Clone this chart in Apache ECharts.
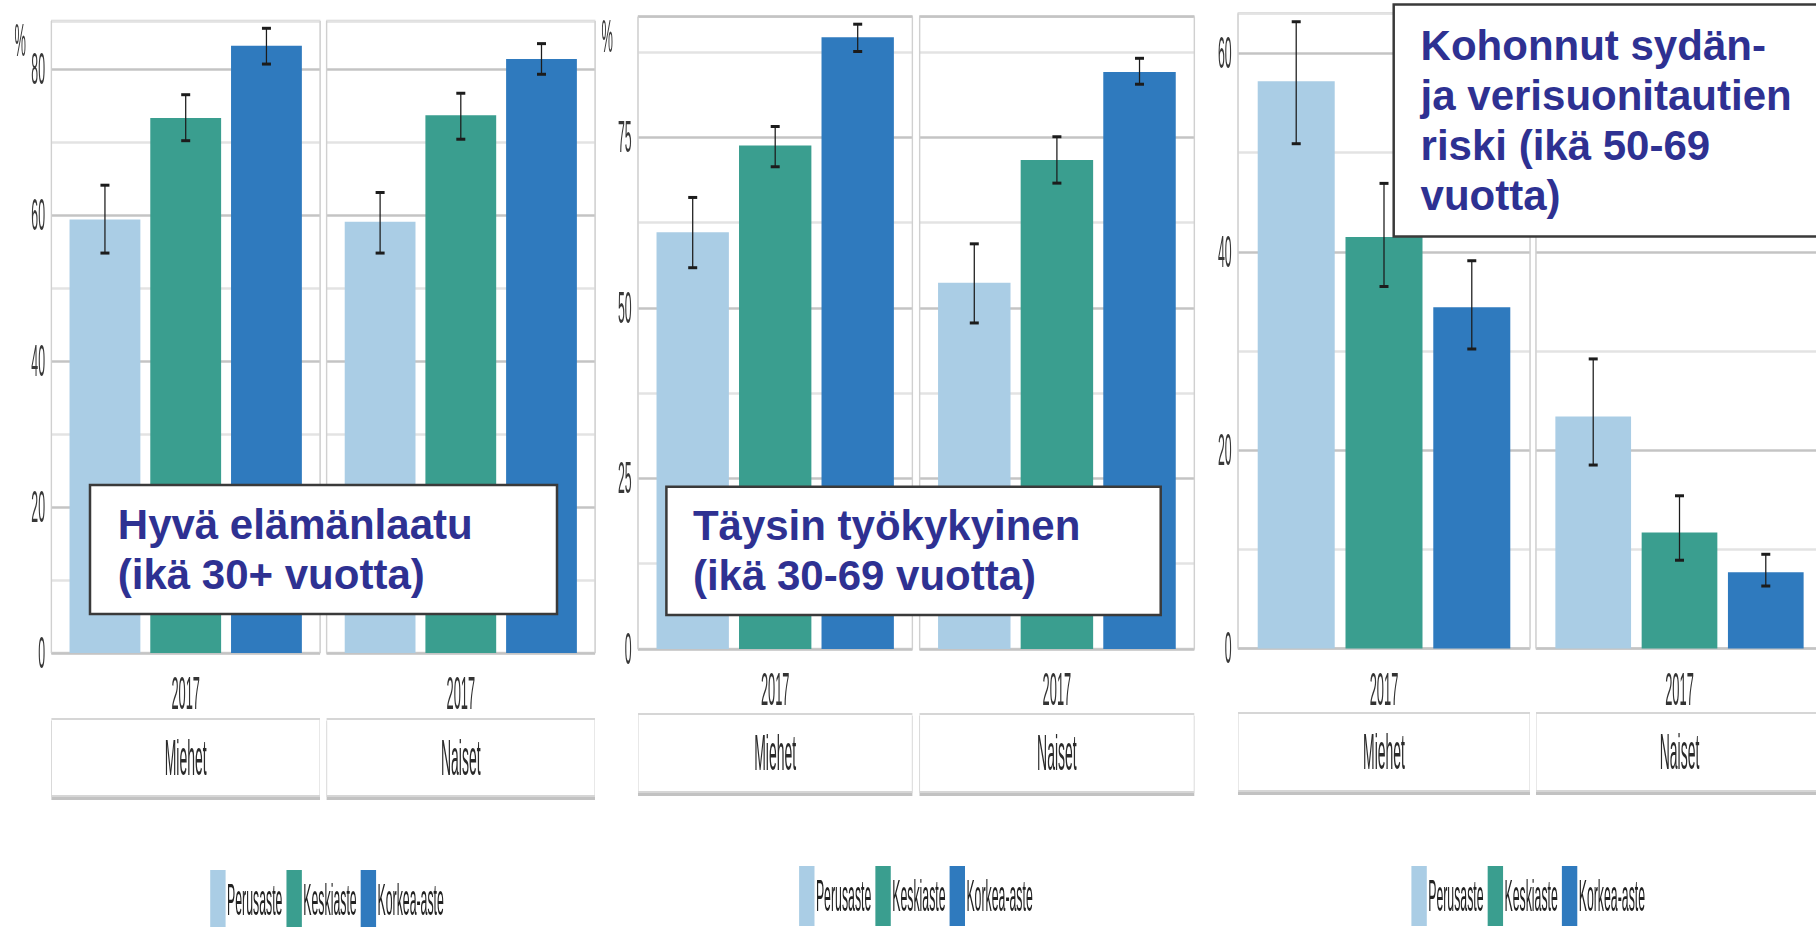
<!DOCTYPE html>
<html>
<head>
<meta charset="utf-8">
<script src="https://cdn.jsdelivr.net/npm/echarts@6/dist/echarts.min.js"></script>
<style>
html,body{margin:0;padding:0;overflow:hidden;background:#fff;width:1816px;height:927px}
#wrap{position:relative;width:1816px;height:927px;overflow:hidden;background:#fff}
#main{position:absolute;left:0;top:0;height:927px;transform-origin:0 0}
#overlay{position:absolute;left:0;top:0;width:1816px;height:927px}
</style>
</head>
<body>
<div id="wrap"><div id="main"></div><div id="overlay"></div></div>
<script>
// ---------------- data ----------------
const years = ['2017'];
const genders = ['Miehet', 'Naiset'];
const levels = ['Perusaste', 'Keskiaste', 'Korkea-aste'];
const levelColors = ['#aacde5', '#3a9e8f', '#2f7abe'];

const titles = [
  'Hyvä elämänlaatu\n(ikä 30+ vuotta)',
  'Täysin työkykyinen\n(ikä 30-69 vuotta)',
  'Kohonnut sydän-\nja verisuonitautien\nriski (ikä 50-69\nvuotta)'
];

// Panel 1: Hyvä elämänlaatu
const laatuMiehet     = [59.4, 73.3, 83.2];
const laatuMiehetLow  = [54.8, 70.2, 80.7];
const laatuMiehetHigh = [64.1, 76.5, 85.6];
const laatuNaiset     = [59.1, 73.7, 81.4];
const laatuNaisetLow  = [54.8, 70.4, 79.3];
const laatuNaisetHigh = [63.1, 76.7, 83.5];
const laatuTicks = [0, 20, 40, 60, 80];

// Panel 2: Täysin työkykyinen
const tyoMiehet     = [61.1, 73.8, 89.7];
const tyoMiehetLow  = [55.9, 70.7, 87.6];
const tyoMiehetHigh = [66.2, 76.6, 91.6];
const tyoNaiset     = [53.7, 71.7, 84.6];
const tyoNaisetLow  = [47.8, 68.3, 82.8];
const tyoNaisetHigh = [59.4, 75.1, 86.6];
const tyoTicks = [0, 25, 50, 75];

// Panel 3: Kohonnut sydän- ja verisuonitautien riski
const riskiMiehet     = [57.2, 41.5, 34.4];
const riskiMiehetLow  = [50.9, 36.5, 30.2];
const riskiMiehetHigh = [63.2, 46.9, 39.1];
const riskiNaiset     = [23.4, 11.7, 7.7];
const riskiNaisetLow  = [18.5, 8.9, 6.3];
const riskiNaisetHigh = [29.2, 15.4, 9.5];
const riskiTicks = [0, 20, 40, 60];

// ---------------- layout ----------------
const SX = 0.28;                       // horizontal squash of the chart image
const px = v => v / SX;
const PRE_W = Math.round(px(1840));    // wider than the page; the wrapper clips it
const FONT = '"Liberation Sans", Arial, Helvetica, sans-serif';
const CAT_GAP = 0.135, BAR_GAP = 0.14;

const panels = [
  { values: [laatuMiehet, laatuNaiset], low: [laatuMiehetLow, laatuNaisetLow], high: [laatuMiehetHigh, laatuNaisetHigh],
    ticks: laatuTicks, max: 86.6, facets: [[51.4, 320], [326.6, 595]], top: 21, bottom: 653,
    unit: '%', unitY: 40, unitRight: 26, legendLeft: 208.8, legendTop: 865, stripTop: 720, stripH: 75 },
  { values: [tyoMiehet, tyoNaiset], low: [tyoMiehetLow, tyoNaisetLow], high: [tyoMiehetHigh, tyoNaisetHigh],
    ticks: tyoTicks, max: 92.7, facets: [[638, 912.4], [919.5, 1194.3]], top: 16.7, bottom: 649,
    unit: '%', unitY: 36, unitRight: 613, legendLeft: 797.7, legendTop: 861, stripTop: 715, stripH: 76 },
  { values: [riskiMiehet, riskiNaiset], low: [riskiMiehetLow, riskiNaisetLow], high: [riskiMiehetHigh, riskiNaisetHigh],
    ticks: riskiTicks, max: 64.05, facets: [[1238, 1530], [1536, 1823]], top: 13.3, bottom: 648.5,
    unit: '', unitY: 0, unitRight: 0, legendLeft: 1410, legendTop: 861, stripTop: 714, stripH: 76 }
];

function errorBarRender(params, api) {
  const li = api.value(3);
  const band = api.size([1, 0])[0];
  const usable = band * (1 - CAT_GAP);
  const w = usable / (3 + 2 * BAR_GAP);
  const cx = api.coord([api.value(0), 0])[0] - usable / 2 + li * w * (1 + BAR_GAP) + w / 2;
  const yl = api.coord([api.value(0), api.value(1)])[1];
  const yh = api.coord([api.value(0), api.value(2)])[1];
  const cap = px(4.5);
  const st = { stroke: '#1c1c1c', lineWidth: 4.5 };
  const cs = { stroke: '#1c1c1c', lineWidth: 3 };
  return { type: 'group', children: [
    { type: 'line', shape: { x1: cx, y1: yh, x2: cx, y2: yl }, style: st },
    { type: 'line', shape: { x1: cx - cap, y1: yh, x2: cx + cap, y2: yh }, style: cs },
    { type: 'line', shape: { x1: cx - cap, y1: yl, x2: cx + cap, y2: yl }, style: cs }
  ]};
}

const grid = [], xAxis = [], yAxis = [], series = [], legend = [];
panels.forEach((p, pi) => {
  p.facets.forEach((fx, fi) => {
    const gi = grid.length;
    const fw = px(fx[1] - fx[0]);
    grid.push({ left: px(fx[0]), width: fw, top: p.top, height: p.bottom - p.top,
      show: true, borderColor: '#d3d3d3', borderWidth: 2.5, backgroundColor: '#fff' });
    const xi = xAxis.length;
    xAxis.push({ type: 'category', gridIndex: gi, data: years,
      axisLine: { show: false }, axisTick: { show: false },
      axisLabel: { margin: 17, fontSize: 46, color: '#333', fontFamily: FONT },
      splitLine: { show: true, lineStyle: { color: '#d0d0d0', width: 5 } } });
    xAxis.push({ type: 'category', gridIndex: gi, position: 'bottom', offset: p.stripTop - p.bottom,
      data: [genders[fi]], axisLine: { show: false }, axisTick: { show: false }, splitLine: { show: false },
      axisLabel: { margin: 0, fontSize: 50, color: '#2a2a2a', fontFamily: FONT, width: fw - 4, height: p.stripH,
        lineHeight: p.stripH, align: 'center', backgroundColor: '#fff', borderColor: '#d6d6d6', borderWidth: 2,
        shadowColor: '#c2c2c2', shadowOffsetY: 3, shadowBlur: 0 } });
    const ticks = p.ticks;
    const showUnit = fi === 0 && !!p.unit;
    yAxis.push({ type: 'value', gridIndex: gi, min: 0, max: p.max, interval: ticks[1] / 2,
      name: showUnit ? p.unit : '', nameLocation: 'end', nameGap: p.top - p.unitY, nameMoveOverlap: false,
      nameTextStyle: { fontSize: 46, color: '#3a3a3a', fontFamily: FONT, align: 'right', verticalAlign: 'middle',
        padding: [0, showUnit ? px(fx[0] - p.unitRight) : 0, 0, 0] },
      axisLine: { show: false }, axisTick: { show: false },
      axisLabel: { show: fi === 0, margin: px(6.4), fontSize: 44, color: '#383838', fontFamily: FONT,
        formatter: v => ticks.indexOf(v) >= 0 ? String(v) : '' },
      splitLine: { show: true, lineStyle: { color: ['#c4c4c4', '#e3e3e3'], width: 2.5 } } });
    levels.forEach((lv, li) => {
      series.push({ type: 'bar', name: lv, xAxisIndex: xi, yAxisIndex: gi, data: [p.values[fi][li]],
        itemStyle: { color: levelColors[li] }, barGap: (BAR_GAP * 100) + '%', barCategoryGap: (CAT_GAP * 100) + '%',
        silent: true });
    });
    series.push({ type: 'custom', xAxisIndex: xi, yAxisIndex: gi, z: 10, silent: true,
      data: levels.map((lv, li) => [0, p.low[fi][li], p.high[fi][li], li]),
      encode: { x: 0, y: [1, 2] }, renderItem: errorBarRender });
  });
  legend.push({ data: levels, left: px(p.legendLeft), top: p.legendTop, orient: 'horizontal',
    itemWidth: px(15.4), itemHeight: 60, itemGap: px(4), icon: 'rect', selectedMode: false,
    textStyle: { fontSize: 44, color: '#222', fontFamily: FONT } });
});

const mainEl = document.getElementById('main');
mainEl.style.width = PRE_W + 'px';
mainEl.style.transform = 'scaleX(' + SX + ')';
const chart = echarts.init(mainEl, null, { renderer: 'svg', width: PRE_W, height: 927 });
chart.setOption({
  animation: false,
  backgroundColor: '#fff',
  textStyle: { fontFamily: FONT },
  grid, xAxis, yAxis, series, legend
});

// ---------------- title boxes (not squashed) ----------------
const titleBoxes = [
  { x: 90, y: 485, w: 467, h: 129, tx: 117.8 },
  { x: 666.4, y: 486.7, w: 494.3, h: 128.3, tx: 692.9 },
  { x: 1393.7, y: 4.5, w: 440, h: 232, tx: 1420.6 }
];
const overlay = echarts.init(document.getElementById('overlay'), null, { renderer: 'svg', width: 1816, height: 927 });
overlay.setOption({
  animation: false,
  graphic: titleBoxes.map((b, i) => ({
    type: 'group', silent: true,
    children: [
      { type: 'rect', shape: { x: b.x, y: b.y, width: b.w, height: b.h },
        style: { fill: '#fff', stroke: '#3a3a3a', lineWidth: 2.5 } },
      { type: 'text', style: { text: titles[i], x: b.tx, y: b.y + b.h / 2, align: 'left', verticalAlign: 'middle',
        fill: '#2e3192', fontSize: 42, fontWeight: 'bold', fontFamily: FONT, lineHeight: 50 } }
    ]
  }))
});
</script>
</body>
</html>
